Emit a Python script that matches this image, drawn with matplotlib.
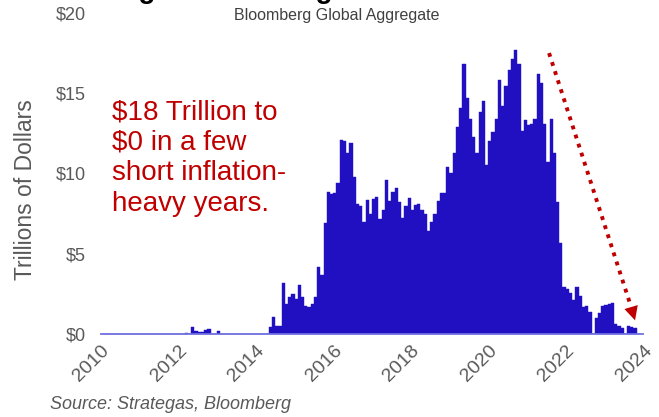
import pandas as pd
import matplotlib.pyplot as plt
from matplotlib.patches import FancyArrowPatch

plt.rcParams['font.family'] = ['Liberation Sans', 'DejaVu Sans']

# Negative-yielding debt, trillions of USD, monthly from Jan 2010
month_start = "2010-01"
debt_tn = [
    0, 0, 0, 0, 0, 0, 0, 0, 0, 0, 0, 0,                                   # 2010
    0, 0, 0, 0, 0, 0, 0, 0, 0, 0, 0, 0,                                   # 2011
    0, 0, 0.05, 0, 0.42, 0.2, 0.13, 0.12, 0.22, 0.3, 0, 0,                # 2012
    0.17, 0, 0, 0, 0, 0, 0, 0, 0, 0, 0, 0,                                # 2013
    0, 0, 0, 0, 0.45, 1.05, 0.5, 0.5, 3.2, 1.9, 2.3, 2.5,                 # 2014
    2.2, 3.05, 2.3, 1.75, 1.7, 1.9, 2.3, 4.2, 3.65, 6.9, 8.85, 8.7,       # 2015
    8.8, 9.4, 12.1, 12.0, 11.3, 11.9, 9.8, 8.1, 8.0, 7.0, 8.35, 7.5,      # 2016
    8.4, 8.55, 7.15, 7.7, 9.6, 8.3, 8.85, 9.1, 8.25, 7.2, 7.95, 8.5,      # 2017
    7.75, 8.05, 8.1, 7.7, 7.5, 6.4, 6.95, 7.5, 8.3, 8.8, 8.8, 10.4,       # 2018
    10.05, 11.25, 12.9, 14.05, 16.8, 14.7, 13.4, 12.25, 11.25, 13.85, 14.5, 10.5,  # 2019
    12.0, 12.6, 13.4, 15.85, 14.2, 15.45, 16.45, 17.1, 17.7, 16.8, 12.65, 13.3,    # 2020
    13.0, 13.1, 13.4, 16.2, 15.65, 13.1, 10.7, 13.4, 11.3, 8.2, 5.7, 2.95,         # 2021
    2.8, 2.55, 2.1, 2.95, 2.35, 1.7, 1.75, 1.4, 0, 0.98, 1.33, 1.75,               # 2022
    1.8, 1.87, 1.95, 0.62, 0.5, 0.35, 0, 0.5, 0.46, 0.35,                          # 2023
]
year_ticks = [2010, 2012, 2014, 2016, 2018, 2020, 2022, 2024]
y_ticks = [0, 5, 10, 15, 20]
y_labels = ['$0', '$5', '$10', '$15', '$20']

months = pd.date_range(month_start, periods=len(debt_tn), freq="MS")
x = months.year + (months.month - 1) / 12

bar_color = '#2110C1'
red = '#C00000'
grey = '#595959'

fig = plt.figure(figsize=(6.59, 4.17), dpi=100)
ax = fig.add_axes([0.153, 0.199, 0.823, 0.770])

ax.bar(x, debt_tn, width=1 / 12, align='edge', color=bar_color,
       edgecolor=bar_color, linewidth=0.3)

ax.set_xlim(2010, 2024)
ax.set_ylim(0, 20)
ax.set_yticks(y_ticks)
ax.set_yticklabels(y_labels)
ax.set_xticks(year_ticks)
ax.set_xticklabels([str(y) for y in year_ticks], rotation=45, ha='right',
                   rotation_mode='anchor', va='top')
ax.tick_params(axis='both', length=0, labelcolor=grey)
ax.tick_params(axis='y', pad=11, labelsize=13)
ax.tick_params(axis='x', pad=6, labelsize=14)
for side in ['top', 'right', 'left']:
    ax.spines[side].set_visible(False)
ax.spines['bottom'].set_color('#7070E0')
ax.spines['bottom'].set_linewidth(1.3)

fig.text(0.038, 0.545, 'Trillions of Dollars', fontsize=16.5, color=grey,
         rotation=90, ha='center', va='center')

# dotted arrow showing the collapse
start = (2021.57, 17.5)
head_base = (2023.68, 1.75)
tip = (2023.79, 0.85)
ax.plot([start[0], head_base[0]], [start[1], head_base[1]], color=red, lw=2.8,
        linestyle=(0, (1.0, 1.45)))
ax.add_patch(FancyArrowPatch((2023.55, 2.8), tip,
                             arrowstyle='-|>,head_length=0.5,head_width=0.25',
                             mutation_scale=20, color=red, lw=0,
                             shrinkA=0, shrinkB=0))

fig.text(0.170, 0.762, '$18 Trillion to\n$0 in a few\nshort inflation-\nheavy years.',
         color=red, fontsize=20, va='top', ha='left', linespacing=1.23)

fig.text(0.157, 1.004, 'Negative Yielding Debt', fontsize=20, fontweight='bold',
         color='black', ha='left', va='baseline')
fig.text(0.511, 0.964, 'Bloomberg Global Aggregate', fontsize=11.5,
         color='#404040', ha='center', va='center')
fig.text(0.076, 0.029, 'Source: Strategas, Bloomberg', fontsize=13,
         style='italic', color=grey, ha='left', va='center')

fig.savefig('out.png', dpi=100)
